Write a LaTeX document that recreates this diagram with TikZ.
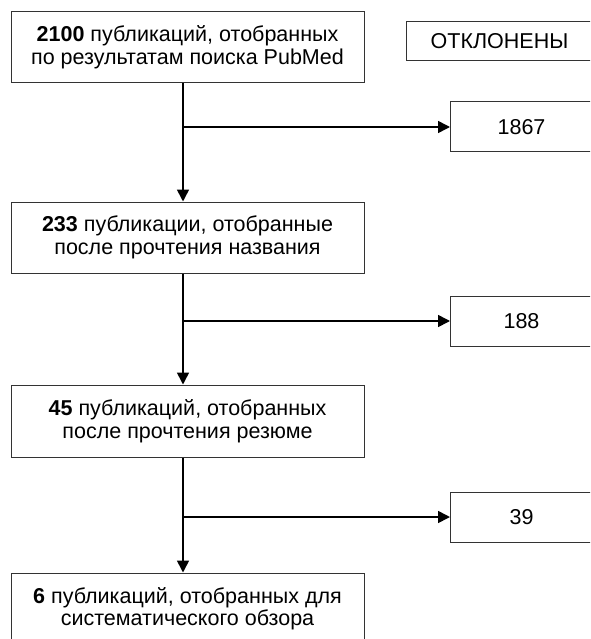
\documentclass[tikz,border=0pt]{standalone}
\usepackage{fontspec}
\setmainfont{Liberation Sans}
\usetikzlibrary{arrows.meta}

\begin{document}
\begin{tikzpicture}[x=1pt, y=1pt,
    stage/.style={draw=black!80, line width=1pt, minimum width=353pt, minimum height=71pt,
        align=center, inner sep=0pt, font=\fontsize{21.5}{22.5}\selectfont},
    reject/.style={draw=black!80, line width=1pt, minimum height=50pt, anchor=west,
        inner sep=0pt, font=\fontsize{21.5}{22.5}\selectfont},
    flow/.style={-{Triangle[length=12pt,width=12pt]}, line width=1.6pt}]
    \useasboundingbox (0,0) rectangle (590,-639);
    \clip (0,0) rectangle (590,-639);

    % stages of selection
    \node[stage] (s1) at (187.5,-47.5) {\textbf{2100} публикаций, отобранных\\по результатам поиска PubMed};
    \node[stage] (s2) at (187.5,-237.5) {\textbf{233} публикации, отобранные\\после прочтения названия};
    \node[stage, minimum height=72pt] (s3) at (187.5,-421) {\textbf{45} публикаций, отобранных\\после прочтения резюме};
    \node[stage] (s4) at (187.5,-608.5) {\textbf{6} публикаций, отобранных для\\систематического обзора};

    % rejected
    \node[reject, minimum width=186pt, minimum height=39pt] (head) at (406,-41.5) {ОТКЛОНЕНЫ};
    \node[reject, minimum width=142pt] (r1) at (450,-127) {1867};
    \node[reject, minimum width=142pt] (r2) at (450,-321) {188};
    \node[reject, minimum width=142pt] (r3) at (450,-517) {39};

    \coordinate (j1) at (183,-127); % branch points
    \coordinate (j2) at (183,-321);
    \coordinate (j3) at (183,-517);

    \draw[flow] (s1.south -| j1) -- (s2.north -| j1);
    \draw[flow] (s2.south -| j2) -- (s3.north -| j2);
    \draw[flow] (s3.south -| j3) -- (s4.north -| j3);

    \draw[flow] (j1) -- (r1.west);
    \draw[flow] (j2) -- (r2.west);
    \draw[flow] (j3) -- (r3.west);
\end{tikzpicture}
\end{document}
